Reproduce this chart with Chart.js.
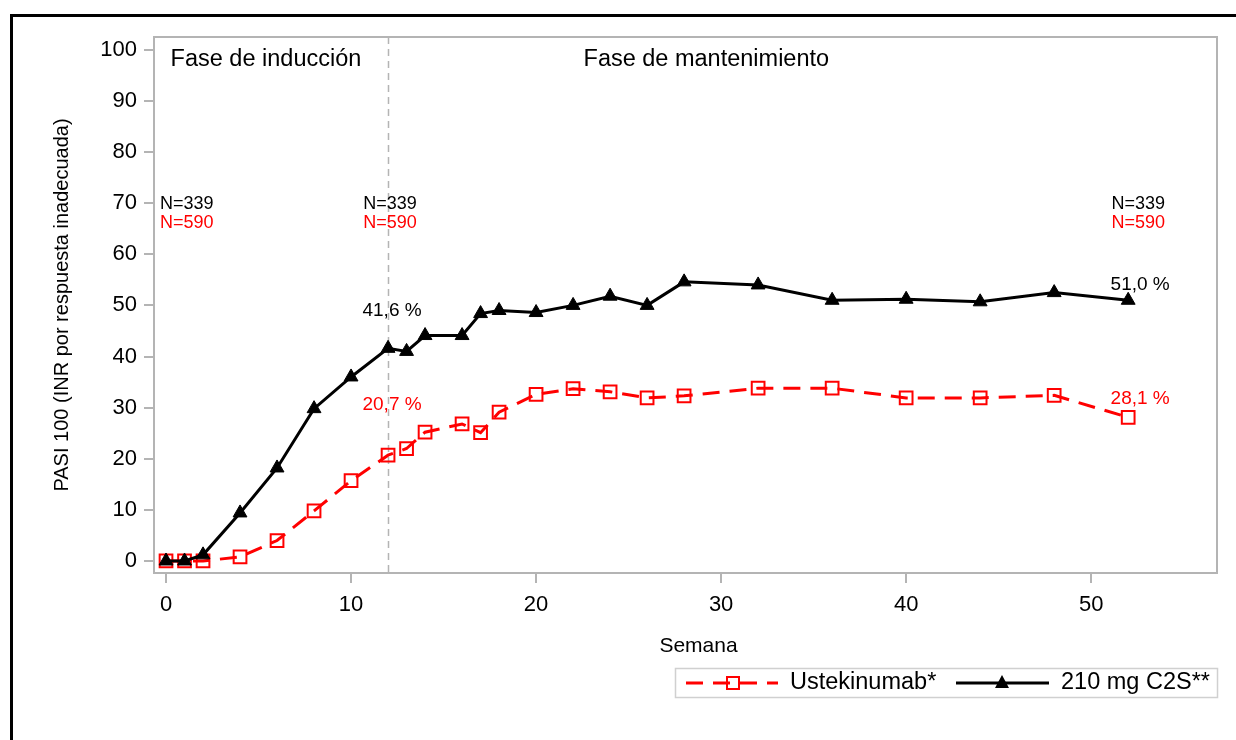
<!DOCTYPE html>
<html>
<head>
<meta charset="utf-8">
<script src="https://cdn.jsdelivr.net/npm/chart.js@4.4.1/dist/chart.umd.min.js"></script>
<style>
  html, body { margin: 0; padding: 0; background: #fff; }
  #wrap { width: 1236px; height: 740px; position: relative; }
</style>
</head>
<body>
<div id="wrap"><canvas id="c" width="1236" height="740"></canvas></div>
<script>
// ---- data ----
const weeks = [0, 1, 2, 4, 6, 8, 10, 12, 13, 14, 16, 17, 18, 20, 22, 24, 26, 28, 32, 36, 40, 44, 48, 52];
const c2sValues = [0, 0, 1.2, 9.4, 18.2, 29.8, 36.0, 41.6, 41.0, 44.1, 44.1, 48.4, 49.0, 48.6, 50.0, 51.8, 50.0, 54.6, 54.0, 51.0, 51.2, 50.7, 52.5, 51.0];
const ustekValues = [0, 0, 0, 0.8, 4.0, 9.8, 15.7, 20.7, 22.0, 25.2, 26.8, 25.1, 29.1, 32.6, 33.7, 33.1, 31.9, 32.3, 33.8, 33.8, 31.9, 31.9, 32.4, 28.1];
const seriesNames = ['Ustekinumab*', '210 mg C2S**'];
const xTickValues = [0, 10, 20, 30, 40, 50];
const yTickValues = [0, 10, 20, 30, 40, 50, 60, 70, 80, 90, 100];
const phaseLabels = ['Fase de inducción', 'Fase de mantenimiento'];
const phaseLabelWeeks = [5.4, 29.2];
const phaseWeek = 12;
const nC2S = ['N=339', 'N=339', 'N=339'];
const nUstek = ['N=590', 'N=590', 'N=590'];
const nWeeks = [0, 12, 52];
const highlightWeeks = [12, 52];
const xTitle = 'Semana';
const yTitle = 'PASI 100 (INR por respuesta inadecuada)';

const FONT = "'Liberation Sans', Arial, sans-serif";
const RED = '#ff0000';
const GRAY = '#b4b4b4';

function pctLabel(v) { return v.toFixed(1).replace('.', ',') + ' %'; }

const annotPlugin = {
  id: 'annot',
  beforeDatasetsDraw(chart) {
    const { ctx, chartArea: a, scales: { x } } = chart;
    const px = Math.round(x.getPixelForValue(phaseWeek)) + 0.5;
    ctx.save();
    ctx.strokeStyle = GRAY;
    ctx.lineWidth = 1.5;
    ctx.setLineDash([7, 5]);
    ctx.beginPath();
    ctx.moveTo(px, a.top);
    ctx.lineTo(px, a.bottom);
    ctx.stroke();
    ctx.restore();
  },
  afterDraw(chart) {
    const { ctx, chartArea: a, scales: { x, y } } = chart;
    ctx.save();
    // plot frame
    ctx.strokeStyle = GRAY;
    ctx.lineWidth = 2;
    ctx.strokeRect(a.left, a.top, a.right - a.left, a.bottom - a.top);
    // outer black border
    ctx.strokeStyle = '#000';
    ctx.lineWidth = 3;
    ctx.beginPath();
    ctx.moveTo(11.5, 760);
    ctx.lineTo(11.5, 15.5);
    ctx.lineTo(1260, 15.5);
    ctx.stroke();

    // x axis title
    ctx.fillStyle = '#000';
    ctx.font = '21px ' + FONT;
    ctx.textBaseline = 'middle';
    ctx.textAlign = 'center';
    ctx.fillText(xTitle, (a.left + a.right) / 2 + 13, a.bottom + 73);

    // phase labels
    ctx.font = '23.5px ' + FONT;
    phaseLabels.forEach((t, i) => {
      ctx.fillText(t, x.getPixelForValue(phaseLabelWeeks[i]), a.top + 23);
    });

    // N labels
    ctx.font = '18px ' + FONT;
    nWeeks.forEach((w, i) => {
      let px = x.getPixelForValue(w);
      let align = 'center';
      if (i === 0) { px = px - 6; align = 'left'; }
      else if (i === nWeeks.length - 1) { px = px + 10; }
      else { px = px + 2; }
      ctx.textAlign = align;
      ctx.fillStyle = '#000';
      ctx.fillText(nC2S[i], px, y.getPixelForValue(70) + 1);
      ctx.fillStyle = RED;
      ctx.fillText(nUstek[i], px, y.getPixelForValue(70) + 20);
    });

    // value labels
    ctx.font = '19px ' + FONT;
    ctx.textAlign = 'center';
    highlightWeeks.forEach((w, i) => {
      const idx = weeks.indexOf(w);
      const last = i === highlightWeeks.length - 1;
      const px = x.getPixelForValue(w) + (last ? 12 : 4);
      ctx.fillStyle = '#000';
      ctx.fillText(pctLabel(c2sValues[idx]), px, y.getPixelForValue(c2sValues[idx]) - (last ? 16 : 38));
      ctx.fillStyle = RED;
      ctx.fillText(pctLabel(ustekValues[idx]), px, y.getPixelForValue(ustekValues[idx]) - (last ? 19 : 50));
    });

    // legend
    const lx = 675, ly = 668, lw = 542, lh = 29;
    ctx.strokeStyle = '#d0d0d0';
    ctx.lineWidth = 1.5;
    ctx.strokeRect(lx + 0.5, ly + 0.5, lw, lh);
    const cy = ly + lh / 2 + 0.5;
    const dsU = chart.data.datasets[1];
    const dsC = chart.data.datasets[0];
    // red sample
    ctx.strokeStyle = dsU.borderColor;
    ctx.lineWidth = dsU.borderWidth;
    ctx.setLineDash(dsU.borderDash);
    ctx.lineDashOffset = 0;
    ctx.beginPath();
    ctx.moveTo(686, cy);
    ctx.lineTo(778, cy);
    ctx.stroke();
    ctx.setLineDash([]);
    ctx.lineWidth = 2;
    ctx.strokeRect(727, cy - 6, 12, 12);
    // black sample
    ctx.strokeStyle = dsC.borderColor;
    ctx.lineWidth = dsC.borderWidth;
    ctx.beginPath();
    ctx.moveTo(956, cy);
    ctx.lineTo(1049, cy);
    ctx.stroke();
    ctx.fillStyle = '#000';
    ctx.beginPath();
    ctx.moveTo(1002, cy - 8);
    ctx.lineTo(1009, cy + 5);
    ctx.lineTo(995, cy + 5);
    ctx.closePath();
    ctx.fill();
    ctx.font = '23.5px ' + FONT;
    ctx.textAlign = 'left';
    ctx.fillStyle = '#000';
    ctx.fillText(seriesNames[0], 790, cy);
    ctx.fillText(seriesNames[1], 1061, cy);
    ctx.restore();
  }
};

const toPts = (vals) => weeks.map((w, i) => ({ x: w, y: vals[i] }));

new Chart(document.getElementById('c'), {
  type: 'line',
  data: {
    datasets: [
      {
        label: seriesNames[1],
        data: toPts(c2sValues),
        borderColor: '#000',
        backgroundColor: '#000',
        borderWidth: 3,
        pointStyle: 'triangle',
        pointRadius: 8,
        pointBorderWidth: 1,
        pointBackgroundColor: '#000',
        pointBorderColor: '#000',
        tension: 0,
        clip: false
      },
      {
        label: seriesNames[0],
        data: toPts(ustekValues),
        borderColor: RED,
        backgroundColor: 'rgba(0,0,0,0)',
        borderWidth: 3,
        borderDash: [17, 10],
        pointStyle: 'rect',
        pointRadius: 9,
        pointBorderWidth: 2,
        pointBackgroundColor: 'rgba(0,0,0,0)',
        pointBorderColor: RED,
        tension: 0,
        clip: false
      }
    ]
  },
  options: {
    responsive: false,
    animation: false,
    devicePixelRatio: 1,
    layout: { padding: { left: 48, top: 37, right: 19, bottom: 81 } },
    plugins: { legend: { display: false }, tooltip: { enabled: false } },
    scales: {
      x: {
        type: 'linear',
        min: -0.65,
        max: 56.8,
        afterFit(s) { s.height = 86; },
        afterBuildTicks(s) { s.ticks = xTickValues.map(v => ({ value: v })); },
        grid: { display: true, drawOnChartArea: false, drawTicks: true, tickLength: 10, color: GRAY, lineWidth: 2 },
        border: { display: true, color: GRAY, width: 2 },
        ticks: { color: '#000', font: { family: FONT, size: 22 }, padding: 9, maxRotation: 0, autoSkip: false },
        title: { display: false }
      },
      y: {
        type: 'linear',
        min: -2.35,
        max: 102.5,
        afterFit(s) { s.width = 106; },
        afterBuildTicks(s) { s.ticks = yTickValues.map(v => ({ value: v })); },
        grid: { display: true, drawOnChartArea: false, drawTicks: true, tickLength: 10, color: GRAY, lineWidth: 2 },
        border: { display: true, color: GRAY, width: 2 },
        ticks: { color: '#000', font: { family: FONT, size: 22 }, padding: 7, autoSkip: false },
        title: { display: true, text: yTitle, color: '#000', font: { family: FONT, size: 20 }, padding: { top: 2, bottom: 0 } }
      }
    }
  },
  plugins: [annotPlugin]
});
</script>
</body>
</html>
